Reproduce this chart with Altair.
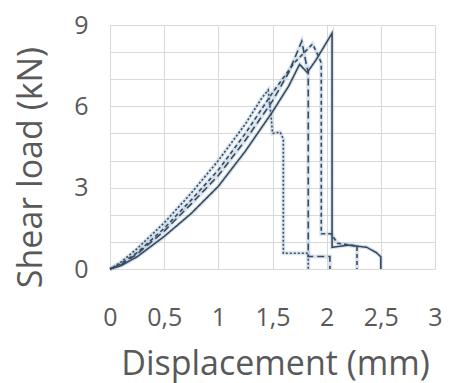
import altair as alt
import pandas as pd

# Series data (displacement mm, shear load kN)
solid_x = [0, 0.1, 0.25, 0.5, 0.75, 1.0, 1.25, 1.5, 1.65, 1.75, 1.82, 1.9, 2.05, 2.05, 2.2, 2.37, 2.46, 2.5, 2.5]
solid_y = [0, 0.12, 0.45, 1.2, 2.05, 3.05, 4.35, 5.8, 6.75, 7.55, 7.25, 7.7, 8.7, 0.8, 0.88, 0.8, 0.6, 0.45, 0]

dash_x = [0, 0.1, 0.25, 0.5, 0.75, 1.0, 1.25, 1.5, 1.65, 1.77, 1.82, 1.83, 1.83, 2.03, 2.03]
dash_y = [0, 0.15, 0.55, 1.4, 2.4, 3.45, 4.75, 6.2, 7.25, 8.4, 7.4, 7.3, 0.46, 0.46, 0]

dot_x = [0, 0.1, 0.25, 0.5, 0.75, 1.0, 1.25, 1.5, 1.7, 1.87, 1.93, 1.95, 1.95, 2.04, 2.1, 2.28, 2.28]
dot_y = [0, 0.2, 0.6, 1.5, 2.55, 3.65, 5.0, 6.5, 7.6, 8.3, 7.8, 7.6, 1.3, 1.3, 0.95, 0.85, 0]

fine_x = [0, 0.1, 0.25, 0.5, 0.75, 1.0, 1.25, 1.4, 1.46, 1.49, 1.5, 1.57, 1.6, 1.6, 1.83, 1.83]
fine_y = [0, 0.25, 0.75, 1.7, 2.8, 4.0, 5.35, 6.3, 6.6, 5.5, 5.0, 5.05, 4.8, 0.58, 0.58, 0]

series = [("S1", solid_x, solid_y), ("S2", dash_x, dash_y), ("S3", dot_x, dot_y), ("S4", fine_x, fine_y)]
dashes = {"S1": [1, 0], "S2": [7, 4], "S3": [4, 3], "S4": [2, 2]}

rows = []
for name, xs, ys in series:
    for i, (x, y) in enumerate(zip(xs, ys)):
        rows.append({"series": name, "i": i, "x": x, "y": y})
df = pd.DataFrame(rows)

x_ticks = [0, 0.5, 1, 1.5, 2, 2.5, 3]
y_ticks = [0, 1, 2, 3, 4, 5, 6, 7, 8, 9]

FONT = "Open Sans"
TXT = "#595959"

x_enc = alt.X("x:Q", scale=alt.Scale(domain=[0, 3], nice=False),
              axis=alt.Axis(values=x_ticks, title="Displacement (mm)",
                            labelExpr="replace(format(datum.value, '~g'), '.', ',')",
                            labelOverlap=False, labelFlush=False,
                            grid=True, gridColor="#d9d9d9", ticks=False, domain=False,
                            labelFont=FONT, labelFontSize=25, labelColor=TXT,
                            labelBaseline="alphabetic", labelPadding=56,
                            titleFont=FONT, titleFontSize=34, titleFontWeight="normal",
                            titleColor=TXT, titleX=165, titleY=105,
                            titleBaseline="alphabetic", titleAlign="center"))
y_enc = alt.Y("y:Q", scale=alt.Scale(domain=[0, 9], nice=False),
              axis=alt.Axis(values=y_ticks, title="Shear load (kN)",
                            labelExpr="datum.value % 3 == 0 ? datum.value : ''",
                            labelOverlap=False, labelFlush=False,
                            grid=True, gridColor="#d9d9d9", ticks=False, domain=False,
                            labelFont=FONT, labelFontSize=25, labelColor=TXT,
                            labelPadding=22,
                            titleFont=FONT, titleFontSize=34, titleFontWeight="normal",
                            titleColor=TXT, titleX=-69, titleY=142, titleAngle=270,
                            titleBaseline="alphabetic", titleAlign="center"))

glow = alt.Chart(df).mark_line(color="#a9c4de", strokeWidth=4, opacity=0.45).encode(
    x=x_enc, y=y_enc, detail="series:N", order="i:Q")

lines = alt.Chart(df).mark_line(color="#3b4a5c", strokeWidth=1.6).encode(
    x=x_enc, y=y_enc, detail="series:N", order="i:Q",
    strokeDash=alt.StrokeDash("series:N",
                              scale=alt.Scale(domain=list(dashes.keys()), range=list(dashes.values())),
                              legend=None))

chart = alt.layer(glow, lines).properties(
    width=325, height=244,
    autosize=alt.AutoSizeParams(type="none"),
    padding={"left": 110, "top": 25, "right": 14, "bottom": 114},
    background="white",
).configure_view(stroke=None)

chart.save("out.html", embed_options={"renderer": "svg", "actions": False})
